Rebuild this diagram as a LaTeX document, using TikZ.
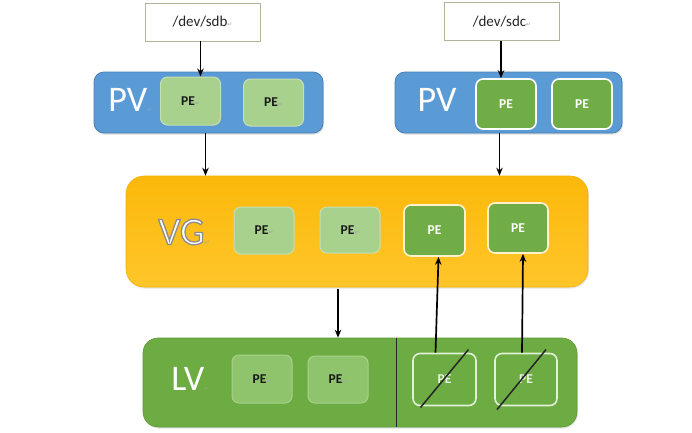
\documentclass[tikz,border=0pt]{standalone}
\usepackage{fontspec}
\setmainfont{Carlito}
\newfontfamily\dejavu{DejaVu Sans}
\usetikzlibrary{arrows.meta,shadows,calc}
\definecolor{devborder}{HTML}{B3B39A}
\definecolor{pvblue}{HTML}{5B9BD5}
\definecolor{pvborder}{HTML}{4A7FB5}
\definecolor{lightpefill}{HTML}{A9D18E}
\definecolor{lightpeborder}{HTML}{C5E0B4}
\definecolor{pegreen}{HTML}{70AD47}
\definecolor{vgtop}{HTML}{FBB80A}
\definecolor{vgbottom}{HTML}{FFC62A}
\definecolor{vgborder}{HTML}{F2B000}
\definecolor{lvgreen}{HTML}{6DAC43}
\definecolor{lvborder}{HTML}{5E9B38}
\definecolor{lvpefill}{HTML}{8FC46C}
\definecolor{lvpeborder}{HTML}{A8D28C}
\definecolor{crossborder}{HTML}{E2F0D9}
\definecolor{vgdarkborder}{HTML}{FFF2CC}
\newcommand\retmark[1][6]{{\dejavu\fontsize{#1}{#1}\selectfont\textcolor{black!35}{↵}}}
\newcommand\strokedtext[1]{\special{pdf:literal direct 2 Tr 1.3 w 0.55 0.55 0.55 RG}#1\special{pdf:literal direct 0 Tr}}
\begin{document}
\begin{tikzpicture}[x=1pt,y=-1pt,
  devbox/.style={draw=devborder, line width=0.6pt, fill=white, minimum width=115pt, minimum height=38pt, inner sep=0pt, font=\fontsize{15}{15}\selectfont, text=black!85},
  pvbox/.style={draw=pvborder, fill=pvblue, rounded corners=10pt, line width=0.8pt, minimum height=61pt, inner sep=0pt, drop shadow={opacity=0.25, shadow xshift=1pt, shadow yshift=-1.5pt}},
  vgbox/.style={draw=vgborder, top color=vgtop, bottom color=vgbottom, rounded corners=18pt, line width=0.6pt, minimum width=462pt, minimum height=111pt, inner sep=0pt, drop shadow={opacity=0.2, shadow xshift=1pt, shadow yshift=-1.5pt}},
  lvbox/.style={draw=lvborder, fill=lvgreen, rounded corners=15pt, line width=0.6pt, minimum width=434pt, minimum height=89pt, inner sep=0pt, drop shadow={opacity=0.2, shadow xshift=1pt, shadow yshift=-1.5pt}},
  pebase/.style={rounded corners=7pt, minimum width=60pt, minimum height=47pt, inner sep=0pt, font=\bfseries\fontsize{13.5}{13.5}\selectfont},
  lightpe/.style={pebase, fill=lightpefill, draw=lightpeborder, line width=1pt, text=black!90},
  lvpe/.style={pebase, fill=lvpefill, draw=lvpeborder, line width=1pt, text=black!90},
  darkpe/.style={pebase, fill=pegreen, draw=white, line width=1.6pt, text=white, minimum height=50pt},
  vgdarkpe/.style={darkpe, draw=vgdarkborder},
  crosspe/.style={pebase, fill=lvgreen, draw=crossborder, line width=1.6pt, text=white!85!lvgreen, minimum width=62pt, minimum height=52pt},
  biglabel/.style={inner sep=0pt, text=white, font=\fontsize{36}{36}\selectfont},
  arr/.style={-{Stealth[length=8pt,width=6.5pt]}, line width=1.7pt, black},
  slash/.style={line width=1.5pt, black!85}
]
\useasboundingbox (0,0) rectangle (692,432);
\fill[white] (0,0) rectangle (692,432);

% devices
\node[devbox] (sdb) at (202.5,22) {/dev/sdb\retmark};
\node[devbox] (sdc) at (502,21.5) {/dev/sdc\retmark};

% PVs
\node[pvbox, minimum width=229pt] (pvL) at (208.5,102.5) {};
\node[biglabel] (pvLtxt) at (130,100) {PV\retmark[5]};
\node[lightpe, minimum height=48pt] (pel1) at (190.5,101) {PE\retmark};
\node[lightpe] (pel2) at (273.5,102.5) {PE\retmark};

\node[pvbox, minimum width=227pt] (pvR) at (508.5,102.5) {};
\node[biglabel] (pvRtxt) at (437,100) {PV};
\node[darkpe] (per1) at (506,104) {PE};
\node[darkpe] (per2) at (582,104) {PE};

% VG
\node[vgbox] (vg) at (357,231.5) {};
\node[biglabel, font=\fontsize{39}{39}\selectfont] (vgtxt) at (184,232) {\strokedtext{VG}\retmark[6]};
\node[lightpe] (vgl1) at (264,230.5) {PE\retmark};
\node[lightpe, minimum height=46pt] (vgl2) at (350,230) {PE\retmark};
\node[vgdarkpe, minimum width=61pt, minimum height=51pt] (vgd1) at (434.5,230.5) {PE};
\node[vgdarkpe] (vgd2) at (518,228) {PE};

% LV
\node[lvbox] (lv) at (360,382.5) {};
\node[biglabel] (lvtxt) at (190,379) {LV\retmark[5]};
\node[lvpe, minimum height=48pt] (lvl1) at (262,379) {PE\retmark};
\node[lvpe] (lvl2) at (338,379.5) {PE\retmark};
\node[crosspe, minimum width=63pt] (x1) at (444.5,379.5) {PE};
\node[crosspe] (x2) at (526,379.5) {PE};
\coordinate (div) at (396,338);
\draw[line width=0.9pt, black!85] (div) -- (div |- lv.south);
\draw[slash] ($(x1.center)+(-24,28)$) -- ($(x1.center)+(24,-30)$);
\draw[slash] ($(x2.center)+(-29,30)$) -- ($(x2.center)+(20,-30)$);

% arrows
\draw[arr] ([xshift=-2pt]sdb.south) -- ([xshift=-2pt]sdb.south |- pel1.north);
\draw[arr] ([xshift=-1pt]sdc.south) -- ([xshift=-1pt]sdc.south |- per1.north);
\draw[arr] ([xshift=-3pt]pvL.south) -- ([xshift=-3pt]pvL.south |- vg.north);
\draw[arr] ([xshift=-9pt]pvR.south) -- ([xshift=-9pt]pvR.south |- vg.north);
\draw[arr] ([xshift=-19pt,yshift=-2pt]vg.south) -- ([xshift=-19pt]vg.south |- lv.north);
\draw[arr] ([xshift=-9pt]x1.north) -- ([xshift=4pt]vgd1.south);
\draw[arr] ([xshift=-4pt]x2.north) -- ([xshift=5pt]vgd2.south);
\end{tikzpicture}
\end{document}
